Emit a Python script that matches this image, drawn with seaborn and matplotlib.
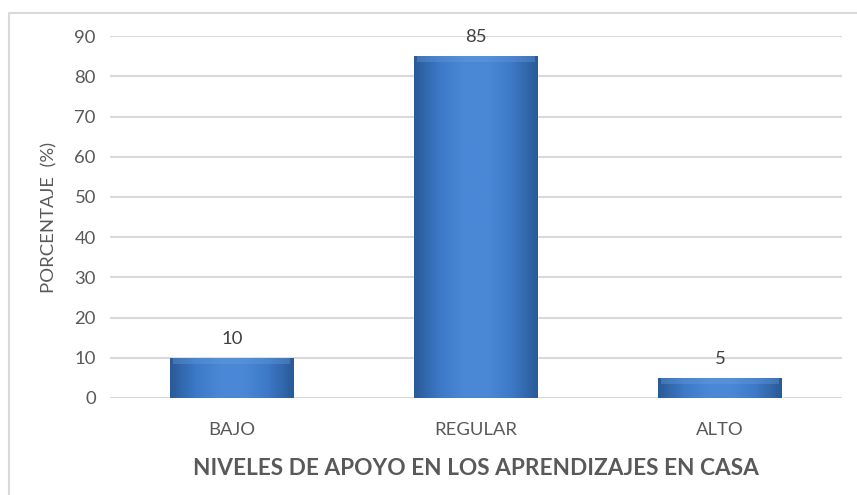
import numpy as np
import pandas as pd
import matplotlib
matplotlib.use("Agg")
import matplotlib.pyplot as plt
import seaborn as sns
from matplotlib.colors import LinearSegmentedColormap
from matplotlib.lines import Line2D

niveles = ["BAJO", "REGULAR", "ALTO"]
porcentaje = [10, 85, 5]
yticks = [0, 10, 20, 30, 40, 50, 60, 70, 80, 90]

df = pd.DataFrame({"nivel": niveles, "pct": porcentaje})

sns.set_theme(style="white")
plt.rcParams["font.family"] = ["Lato", "DejaVu Sans"]

fig = plt.figure(figsize=(8.57, 4.95), dpi=100)
ax = fig.add_axes([0.128, 0.196, 0.8545, 0.731])

sns.barplot(data=df, x="nivel", y="pct", color="#4178be", width=0.505,
            saturation=1, ax=ax, zorder=3)

# bevel-like gradient on each bar
grad = LinearSegmentedColormap.from_list(
    "bev", ["#2a5a98", "#3c78c6", "#4a88d6", "#4a88d6", "#3c78c6", "#2a5a98"])
g = np.linspace(0, 1, 200).reshape(1, -1)
for p in ax.patches:
    x0, y0 = p.get_x(), p.get_y()
    w, h = p.get_width(), p.get_height()
    im = ax.imshow(g, cmap=grad, extent=[x0, x0 + w, y0, y0 + h],
                   aspect="auto", zorder=4, origin="lower")
    im.set_clip_path(p)
    # top highlight strip
    ax.fill_between([x0 + 0.012, x0 + w - 0.012], y0 + h - 1.5, y0 + h,
                    color="#6a9fe0", alpha=0.35, zorder=5, lw=0)

ax.set_xlim(-0.5, 2.5)
ax.set_ylim(0, 90)
ax.set_yticks(yticks)
ax.yaxis.grid(True, color="#d9d9d9", lw=1.5, zorder=0)
for s in ax.spines.values():
    s.set_visible(False)
ax.tick_params(axis="both", length=0, colors="#595959", labelsize=13.3)
ax.tick_params(axis="x", pad=17)
ax.tick_params(axis="y", pad=10)

for i, v in enumerate(porcentaje):
    ax.text(i, v + 2.7, str(v), ha="center", va="bottom", fontsize=13.3,
            color="#404040", zorder=6)

ax.set_xlabel("NIVELES DE APOYO EN LOS APRENDIZAJES EN CASA", fontsize=16.3,
              fontweight="bold", color="#595959", labelpad=15)
ax.set_ylabel("PORCENTAJE  (%)", fontsize=13.3, color="#595959", labelpad=12)

# chart frame (left and top edges visible)
fig.add_artist(Line2D([0.0105, 0.0105], [0.0, 0.974], color="#d9d9d9", lw=1.5))
fig.add_artist(Line2D([0.0105, 1.0], [0.974, 0.974], color="#d9d9d9", lw=1.5))

fig.savefig("out.png", dpi=100)
